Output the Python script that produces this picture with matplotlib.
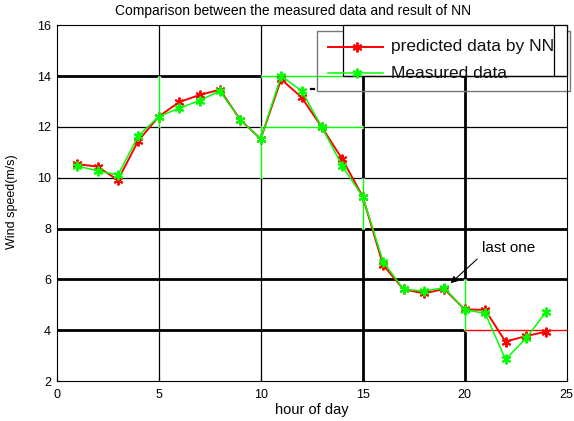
import matplotlib
matplotlib.use('Agg')
import matplotlib.pyplot as plt
from matplotlib.patches import Rectangle

# hourly wind speed
hours = list(range(1, 25))
predicted = [10.54, 10.44, 9.91, 11.46, 12.41, 12.98, 13.26, 13.47, 12.28, 11.53,
             13.88, 13.17, 11.99, 10.73, 9.26, 6.57, 5.61, 5.45, 5.62, 4.82,
             4.80, 3.55, 3.77, 3.94]
measured = [10.46, 10.28, 10.11, 11.65, 12.41, 12.74, 13.04, 13.42, 12.28, 11.53,
            14.00, 13.43, 11.99, 10.46, 9.26, 6.70, 5.61, 5.54, 5.67, 4.80,
            4.67, 2.85, 3.68, 4.73]

x_ticks = [0, 5, 10, 15, 20, 25]
y_ticks = [2, 4, 6, 8, 10, 12, 14, 16]
thick_x = [15, 20]
thick_y = [4, 6, 8, 14]

plt.rcParams['font.family'] = ['Liberation Sans', 'DejaVu Sans']

fig = plt.figure(figsize=(5.74, 4.21), dpi=100)
ax = fig.add_axes([0.0988, 0.095, 0.8885, 0.8447])
ax.set_xlim(0, 25)
ax.set_ylim(2, 16)
ax.set_xticks(x_ticks)
ax.set_yticks(y_ticks)
ax.tick_params(direction='in', length=3, labelsize=9)
ax.tick_params(axis='x', pad=6)
ax.tick_params(axis='y', pad=4)
for s in ax.spines.values():
    s.set_linewidth(0.8)

# grid, some lines drawn heavier as in the original
for xv in x_ticks[1:-1]:
    ax.axvline(xv, color='black', lw=2.0 if xv in thick_x else 0.9, zorder=1)
for yv in y_ticks[1:-1]:
    if yv == 14:
        ax.plot([0, 10], [14, 14], color='black', lw=2.0, zorder=1)
        ax.plot([14.03, 25], [14, 14], color='black', lw=0.9, zorder=5)
    else:
        ax.axhline(yv, color='black', lw=2.0 if yv in thick_y else 0.9, zorder=1)

# rendering glitches: coloured pieces of grid
glitch = [
    ([10, 14.03], [14, 14], '#00ff00'),
    ([5, 5], [14, 12], '#00ff00'),
    ([10, 10], [12, 10], '#00ff00'),
    ([10, 15], [12, 12], '#00ff00'),
    ([15, 15], [10, 8], '#00ff00'),
    ([20, 20], [6, 4], '#00ff00'),
    ([20, 25], [4, 4], '#ff0000'),
]
for gx, gy, gc in glitch:
    ax.plot(gx, gy, color='white', lw=2.4, zorder=1.5, solid_capstyle='butt')
    ax.plot(gx, gy, color=gc, lw=1.0, zorder=1.6, solid_capstyle='butt')

star = (6, 2, 0)
ax.plot(hours, predicted, color='#ff0000', lw=1.4, marker=star, ms=7, mew=1.4, zorder=3)
ax.plot(hours, measured, color='#00ff00', lw=1.1, marker=star, ms=7, mew=1.4, zorder=3.1)

# legend, drawn by hand (two offset boxes)
ax.add_patch(Rectangle((12.76, 13.43), 12.40, 2.36, fill=False, ec='#777777',
                       lw=1.0, clip_on=False, zorder=2))
ax.add_patch(Rectangle((14.03, 14), 10.97, 2, fc='white', ec='black',
                       lw=0.9, clip_on=False, zorder=4))
ax.plot([24.38, 24.38], [14, 16], color='black', lw=0.9, zorder=5)
ax.plot([12.45, 12.62], [13.48, 13.48], color='black', lw=1.6, zorder=5, clip_on=False)

ax.plot([13.3, 16.0], [15.16, 15.16], color='#ff0000', lw=1.4, zorder=6, clip_on=False)
ax.plot([14.7], [15.16], color='#ff0000', marker=star, ms=7, mew=1.4, zorder=6, clip_on=False)
ax.plot([13.3, 16.0], [14.11, 14.11], color='#00ff00', lw=1.1, zorder=6, clip_on=False)
ax.plot([14.7], [14.11], color='#00ff00', marker=star, ms=7, mew=1.4, zorder=6, clip_on=False)
ax.text(16.37, 15.16, 'predicted data by NN', fontsize=12.5, va='center', ha='left',
        color='#111111', zorder=7)
ax.text(16.37, 14.11, 'Measured data', fontsize=12.5, va='center', ha='left',
        color='#111111', zorder=7)

ax.annotate('last one', xy=(19.31, 5.85), xytext=(20.85, 7.25), fontsize=11,
            va='center', ha='left', zorder=7,
            arrowprops=dict(arrowstyle='-|>', color='black', lw=0.8,
                            mutation_scale=10, relpos=(0, 0), shrinkA=2, shrinkB=0))

ax.set_xlabel('hour of day', fontsize=10.5, labelpad=1)
ax.set_ylabel('Wind speed(m/s)', fontsize=9)
ax.yaxis.set_label_coords(-0.075, 0.505)
fig.text(293 / 574, 1 - 11.5 / 421, 'Comparison between the measured data and result of NN',
         fontsize=10, ha='center', va='center')

fig.savefig('out.png', dpi=100)
